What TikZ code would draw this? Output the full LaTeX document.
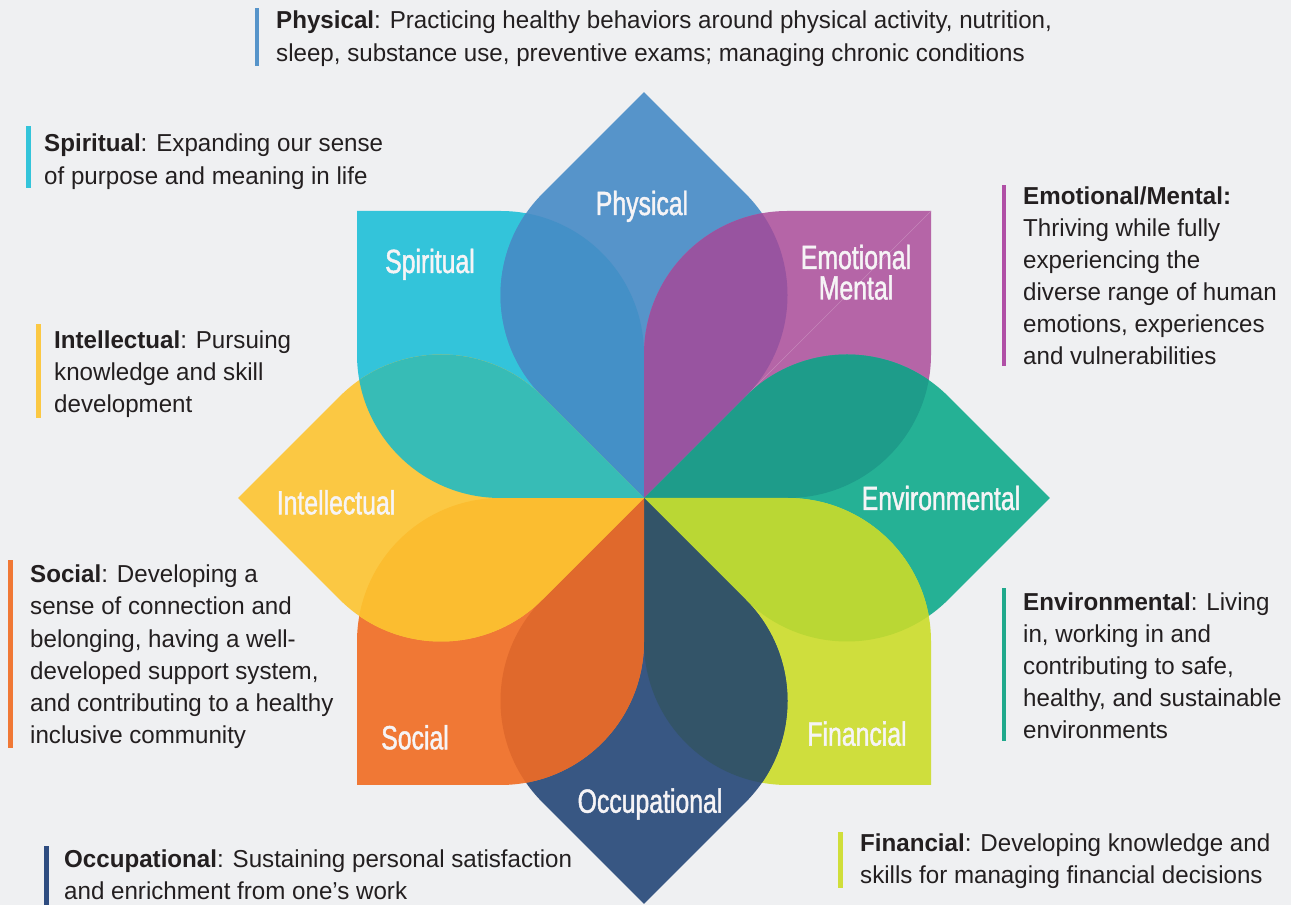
\documentclass[tikz,border=0pt]{standalone}
\usepackage{fontspec}
\setmainfont{Liberation Sans}[FakeStretch=0.985]
\newfontfamily\petalfont{Liberation Sans}[FakeStretch=0.74,FakeBold=1.3]

% petal colours
\definecolor{bgc}{HTML}{EFF0F2}
\definecolor{cphy}{HTML}{5694CA}
\definecolor{cspi}{HTML}{33C4DA}
\definecolor{cemo}{HTML}{B565A7}
\definecolor{cenv}{HTML}{25B195}
\definecolor{cfin}{HTML}{CFDE3D}
\definecolor{cocc}{HTML}{385783}
\definecolor{csoc}{HTML}{F07835}
\definecolor{cint}{HTML}{FBC843}
% overlap colours
\definecolor{spiphy}{HTML}{4490C7}
\definecolor{phyemo}{HTML}{9854A0}
\definecolor{emoenv}{HTML}{1E9C8A}
\definecolor{envfin}{HTML}{BAD734}
\definecolor{finocc}{HTML}{335468}
\definecolor{occsoc}{HTML}{E0692C}
\definecolor{socint}{HTML}{FBBD30}
\definecolor{intspi}{HTML}{37BCB6}
% text and side bars
\definecolor{bodytext}{HTML}{231F20}
\definecolor{labelwhite}{HTML}{F6F4F6}
\definecolor{seamc}{HTML}{C586BA}
\definecolor{barphy}{HTML}{5694CA}
\definecolor{barspi}{HTML}{33C4DA}
\definecolor{baremo}{HTML}{B04FA6}
\definecolor{barint}{HTML}{FBC843}
\definecolor{barsoc}{HTML}{F07835}
\definecolor{barenv}{HTML}{1FA98C}
\definecolor{barocc}{HTML}{2E4C80}
\definecolor{barfin}{HTML}{D0DE3A}

% one petal: a square with its outer and inner corners sharp and the two
% side corners rounded by half the side length
\newcommand\petalshape{(0,0) -- (0,143.5) arc[start angle=0,end angle=90,radius=143.5] -- (-287,287) -- (-287,143.5) arc[start angle=180,end angle=270,radius=143.5] -- cycle}
% the region shared by two neighbouring petals
\newcommand\petaloverlap[3]{\begin{scope}\clip[petal=#1]\petalshape;\fill[#3,petal=#2]\petalshape;\end{scope}}

\tikzset{
  petal/.style={shift={(644,407)},rotate=#1},
  petallabel/.style={anchor=base,inner sep=0pt,text=labelwhite,
    font=\petalfont\fontsize{33.5}{30.5}\selectfont},
  blurb/.style={anchor=base west,inner sep=0pt,text=bodytext,
    font=\fontsize{24.5}{32.2}\selectfont},
}

\begin{document}
\begin{tikzpicture}[x=1pt,y=1pt]
\useasboundingbox (0,0) rectangle (1291,905);
\fill[bgc] (0,0) rectangle (1291,905);

% petals
\fill[cspi,petal=0]\petalshape;
\fill[cphy,petal=-45]\petalshape;
\fill[cemo,petal=-90]\petalshape;
\fill[cenv,petal=-135]\petalshape;
\fill[cfin,petal=-180]\petalshape;
\fill[cocc,petal=-225]\petalshape;
\fill[csoc,petal=-270]\petalshape;
\fill[cint,petal=45]\petalshape;

% faint diagonal seam of the emotional petal
\draw[seamc,line width=0.7pt] (931,694) -- (644,407);

% overlaps
\petaloverlap{0}{-45}{spiphy}
\petaloverlap{-45}{-90}{phyemo}
\petaloverlap{-90}{-135}{emoenv}
\petaloverlap{-135}{-180}{envfin}
\petaloverlap{-180}{-225}{finocc}
\petaloverlap{-225}{-270}{occsoc}
\petaloverlap{-270}{45}{socint}
\petaloverlap{45}{0}{intspi}

% petal labels
\node[petallabel] (lphy) at (642,690) {Physical};
\node[petallabel] (lspi) at (430,632) {Spiritual};
\node[petallabel] (lemo) at (856,636) {\vtop{\baselineskip=30.5pt
  \hbox to 140pt{\hfil Emotional\hfil}\hbox to 140pt{\hfil Mental\hfil}}};
\node[petallabel] (lint) at (336,390.7) {Intellectual};
\node[petallabel] (lenv) at (941,395) {Environmental};
\node[petallabel] (lfin) at (857,159.3) {Financial};
\node[petallabel] (lsoc) at (415,155.7) {Social};
\node[petallabel] (locc) at (650,92.3) {Occupational};

% side bars
\fill[barphy] (254.5,897) rectangle (259,839);
\fill[barspi] (26,779) rectangle (30.5,717);
\fill[baremo] (1001.5,720) rectangle (1006,539);
\fill[barint] (36,581) rectangle (40.5,487);
\fill[barsoc] (8,345) rectangle (12.5,157);
\fill[barenv] (1001.5,317) rectangle (1006,164);
\fill[barocc] (44,59) rectangle (48.5,0);
\fill[barfin] (838,73) rectangle (842.5,17);

% descriptions
\node[blurb] (tphy) at (276,876) {\vtop{\baselineskip=32.2pt
  \hbox{\textbf{Physical}: Practicing healthy behaviors around physical activity, nutrition,}
  \hbox{sleep, substance use, preventive exams; managing chronic conditions}}};
\node[blurb] (tspi) at (44,753) {\vtop{\baselineskip=32.2pt
  \hbox{\textbf{Spiritual}: Expanding our sense}
  \hbox{of purpose and meaning in life}}};
\node[blurb] (temo) at (1023,700) {\vtop{\baselineskip=32pt
  \hbox{\textbf{Emotional/Mental:}}
  \hbox{Thriving while fully}
  \hbox{experiencing the}
  \hbox{diverse range of human}
  \hbox{emotions, experiences}
  \hbox{and vulnerabilities}}};
\node[blurb] (tint) at (54,556) {\vtop{\baselineskip=32pt
  \hbox{\textbf{Intellectual}: Pursuing}
  \hbox{knowledge and skill}
  \hbox{development}}};
\node[blurb] (tsoc) at (30,322.3) {\vtop{\baselineskip=32.2pt
  \hbox{\textbf{Social}: Developing a}
  \hbox{sense of connection and}
  \hbox{belonging, having a well-}
  \hbox{developed support system,}
  \hbox{and contributing to a healthy}
  \hbox{inclusive community}}};
\node[blurb] (tenv) at (1023,294) {\vtop{\baselineskip=32pt
  \hbox{\textbf{Environmental}: Living}
  \hbox{in, working in and}
  \hbox{contributing to safe,}
  \hbox{healthy, and sustainable}
  \hbox{environments}}};
\node[blurb] (tocc) at (64,37) {\vtop{\baselineskip=31.5pt
  \hbox{\textbf{Occupational}: Sustaining personal satisfaction}
  \hbox{and enrichment from one’s work}}};
\node[blurb] (tfin) at (860,53) {\vtop{\baselineskip=31.5pt
  \hbox{\textbf{Financial}: Developing knowledge and}
  \hbox{skills for managing financial decisions}}};
\end{tikzpicture}
\end{document}
